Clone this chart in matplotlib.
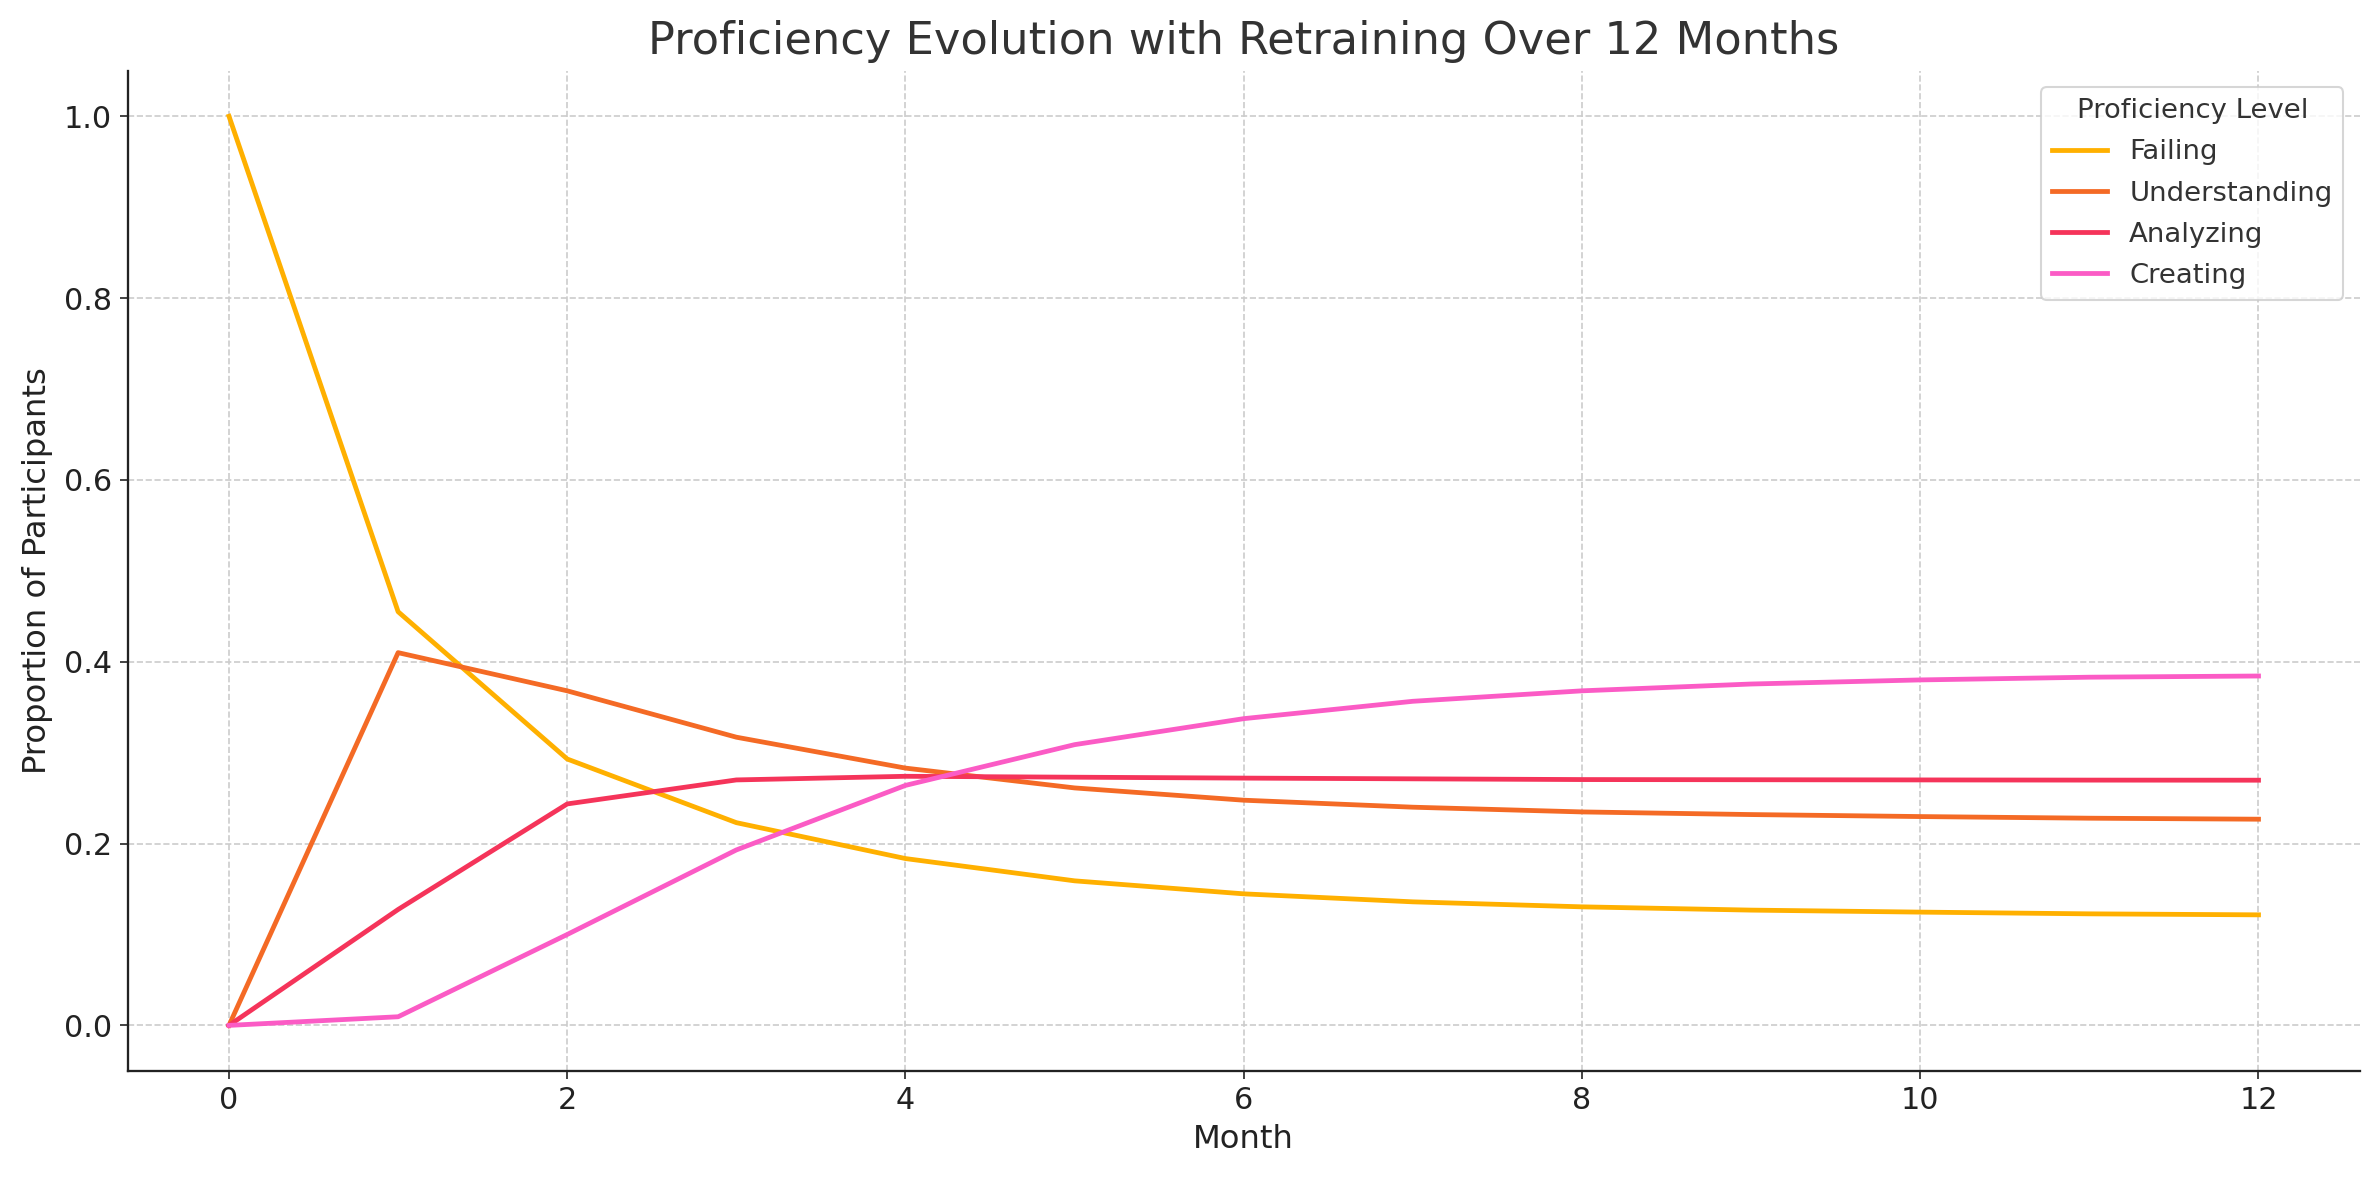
import matplotlib
matplotlib.use("Agg")
import matplotlib.pyplot as plt

months = list(range(13))
failing = [1.0, 0.455, 0.293, 0.223, 0.1835, 0.159, 0.1447, 0.1359, 0.1304, 0.1268, 0.1246, 0.1227, 0.1216]
understanding = [0.0, 0.410, 0.368, 0.317, 0.283, 0.2612, 0.2477, 0.240, 0.2348, 0.2319, 0.2297, 0.2279, 0.2268]
analyzing = [0.0, 0.1275, 0.2436, 0.270, 0.274, 0.273, 0.272, 0.2712, 0.2704, 0.2702, 0.270, 0.2698, 0.2697]
creating = [0.0, 0.0095, 0.100, 0.193, 0.264, 0.3088, 0.3374, 0.3565, 0.368, 0.3755, 0.380, 0.383, 0.3843]

series_names = ["Failing", "Understanding", "Analyzing", "Creating"]
colors = ["#FFB000", "#F46A25", "#F5345A", "#FB5BC5"]

plt.rcParams['font.family'] = ['DejaVu Sans']
fig = plt.figure(figsize=(2379/150, 1180/150), dpi=150)
ax = fig.add_axes([0.0536, 0.0925, 0.9384, 0.8475])

for name, vals, c in zip(series_names, [failing, understanding, analyzing, creating], colors):
    ax.plot(months, vals, color=c, lw=2.3, label=name)

ax.grid(True, linestyle='--', color='#cccccc', linewidth=0.8)
ax.set_axisbelow(True)
for s in ['top', 'right']:
    ax.spines[s].set_visible(False)
for s in ['left', 'bottom']:
    ax.spines[s].set_color('#222222')
    ax.spines[s].set_linewidth(1.1)
ax.tick_params(labelsize=14.5, colors='#222222', length=4)
ax.set_xticks([0, 2, 4, 6, 8, 10, 12])
ax.set_xlabel("Month", fontsize=15.5, color='#222222', labelpad=4)
ax.set_ylabel("Proportion of Participants", fontsize=15.5, color='#222222', labelpad=5)
ax.set_title("Proficiency Evolution with Retraining Over 12 Months", fontsize=21.5, color='#333333', pad=8)
leg = ax.legend(title="Proficiency Level", loc='upper right', fontsize=13.2, title_fontsize=13.2,
                labelspacing=0.55, borderaxespad=0.6)
for t in leg.get_texts():
    t.set_color('#333333')
leg.get_title().set_color('#333333')

fig.savefig("out.png", dpi=150)
